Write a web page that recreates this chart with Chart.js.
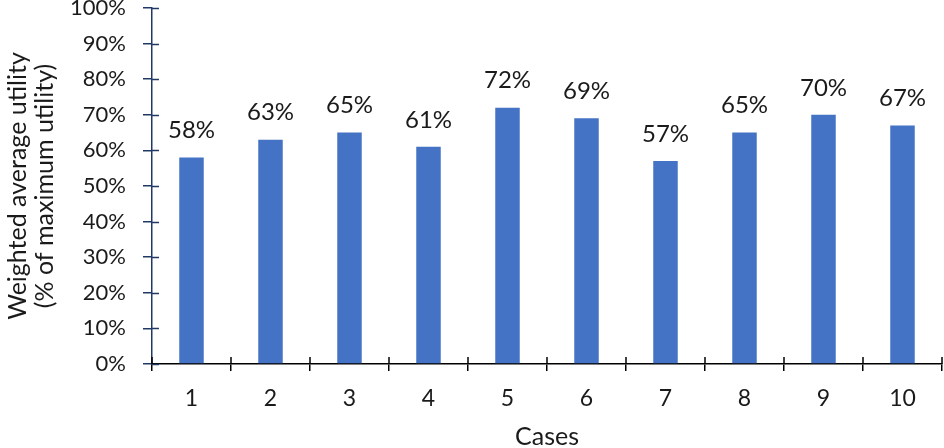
<!DOCTYPE html>
<html><head><meta charset="utf-8">
<script src="https://cdn.jsdelivr.net/npm/chart.js@4/dist/chart.umd.min.js"></script>
<style>html,body{margin:0;padding:0;background:#fff}#wrap{width:944px;height:448px}</style>
</head><body><div id="wrap"><canvas id="c" width="944" height="448"></canvas></div>
<script>
const categories = ['1','2','3','4','5','6','7','8','9','10'];
const utilityValues = [58, 63, 65, 61, 72, 69, 57, 65, 70, 67];
const yTitleLines = ['Weighted average utility', '(% of maximum utility)'];
const xTitle = 'Cases';

const FONT = "Lato, 'Open Sans', sans-serif";
const TEXT = '#1a1a1a';
const NAVY = '#1F3864';

const crossTicks = {
  id: 'crossTicks',
  afterDraw(chart) {
    const ctx = chart.ctx, y = chart.scales.y, x = chart.scales.x;
    ctx.save();
    ctx.lineWidth = 1.5;
    ctx.strokeStyle = NAVY;
    y.ticks.forEach((t, i) => {
      const py = Math.round(y.getPixelForTick(i)) + 0.5;
      ctx.beginPath(); ctx.moveTo(y.right, py); ctx.lineTo(y.right + 7, py); ctx.stroke();
    });
    ctx.strokeStyle = '#000';
    const n = categories.length;
    for (let i = 0; i <= n; i++) {
      const px = x.getPixelForValue(i - 0.5);
      ctx.beginPath(); ctx.moveTo(px, x.top - 7); ctx.lineTo(px, x.top); ctx.stroke();
    }
    ctx.fillStyle = TEXT;
    ctx.font = "24px " + FONT;
    ctx.textAlign = 'center';
    ctx.textBaseline = 'bottom';
    chart.getDatasetMeta(0).data.forEach((bar, i) => {
      ctx.fillText(utilityValues[i] + '%', bar.x, bar.y - 15);
    });
    ctx.restore();
  }
};

new Chart(document.getElementById('c'), {
  type: 'bar',
  data: {
    labels: categories,
    datasets: [{
      data: utilityValues,
      backgroundColor: '#4472C4',
      categoryPercentage: 1,
      barPercentage: 0.31
    }]
  },
  options: {
    responsive: false,
    animation: false,
    layout: { padding: { top: 8, right: 2, left: 0, bottom: 0 } },
    plugins: { legend: { display: false }, tooltip: { enabled: false } },
    scales: {
      y: {
        min: 0, max: 100,
        afterFit(s) { s.width = 152; s.paddingTop = 0; s.paddingBottom = 0; },
        ticks: { stepSize: 10, color: TEXT, font: { family: FONT, size: 22 }, padding: 17,
          callback: v => v + '%' },
        grid: { display: true, drawOnChartArea: false, drawTicks: true, tickLength: 9, color: NAVY, lineWidth: 1.5 },
        border: { display: true, color: NAVY, width: 1.5 },
        title: { display: true, text: yTitleLines, color: TEXT, font: { family: FONT, size: 25, lineHeight: 1.1 }, padding: { top: 4, bottom: 0 } }
      },
      x: {
        offset: true,
        afterFit(s) { s.height = 84; s.paddingLeft = 0; s.paddingRight = 0; },
        ticks: { color: TEXT, font: { family: FONT, size: 23 }, padding: 14 },
        grid: { display: true, offset: true, drawOnChartArea: false, drawTicks: true, tickLength: 7, color: '#000', lineWidth: 1.5 },
        border: { display: true, color: '#000', width: 1.5 },
        title: { display: true, text: xTitle, color: TEXT, font: { family: FONT, size: 25, lineHeight: 1 }, padding: { top: 0, bottom: -1 } }
      }
    }
  },
  plugins: [crossTicks]
});
</script></body></html>
